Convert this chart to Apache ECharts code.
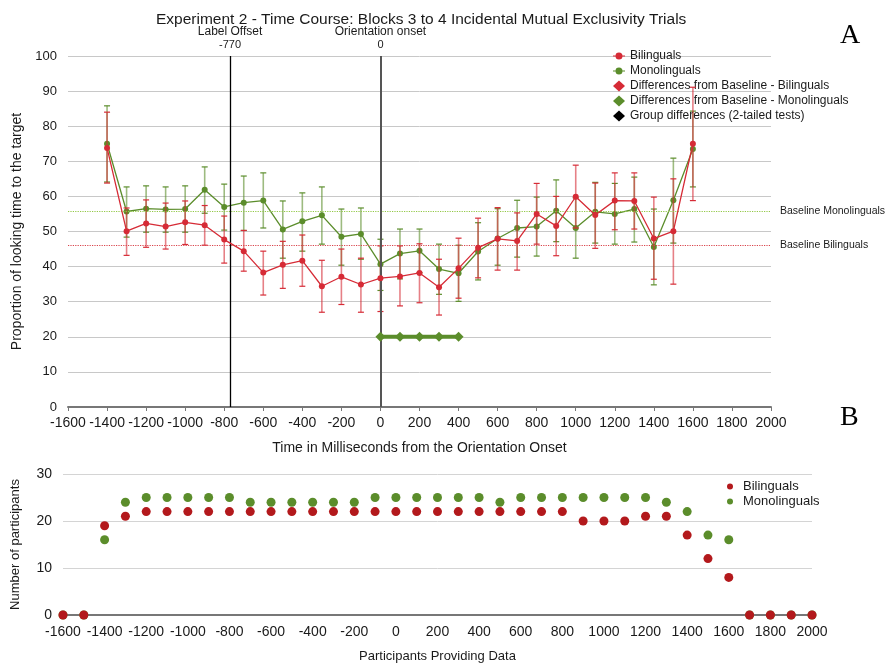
<!DOCTYPE html>
<html>
<head>
<meta charset="utf-8">
<script src="https://cdn.jsdelivr.net/npm/echarts@6/dist/echarts.min.js"></script>
<style>
  html, body { margin: 0; padding: 0; background: #ffffff; }
  #chart { width: 891px; height: 666px; }
</style>
</head>
<body>
<div id="chart"></div>
<script>
// Time course: proportion of looking time (mean with error bounds) per 100 ms bin
const times = [-1400, -1300, -1200, -1100, -1000, -900, -800, -700, -600, -500, -400, -300, -200, -100,
  0, 100, 200, 300, 400, 500, 600, 700, 800, 900, 1000, 1100, 1200, 1300, 1400, 1500, 1600];

const biMean = [73.8, 50.1, 52.3, 51.4, 52.6, 51.8, 47.7, 44.4, 38.3, 40.5, 41.7, 34.4, 37.1, 34.9,
  36.7, 37.2, 38.2, 34.1, 39.5, 45.4, 47.9, 47.3, 55.0, 51.6, 59.9, 54.7, 58.8, 58.7, 48.0, 50.1, 75.0];
const biLow = [63.8, 43.2, 45.5, 45.0, 46.3, 46.1, 41.0, 38.7, 31.9, 33.8, 34.4, 27.0, 29.2, 27.0,
  27.2, 28.8, 29.7, 26.2, 31.0, 36.8, 39.0, 39.0, 46.4, 43.1, 51.0, 45.2, 50.5, 50.7, 36.4, 35.0, 58.8];
const biHigh = [84.0, 56.7, 59.0, 58.1, 58.7, 57.4, 54.4, 50.3, 44.4, 47.2, 49.0, 41.8, 45.0, 42.4,
  45.9, 45.9, 46.5, 42.1, 48.1, 53.8, 56.8, 55.3, 63.7, 60.0, 68.9, 63.8, 66.7, 66.7, 59.8, 65.0, 91.1];

const monoMean = [75.0, 55.7, 56.5, 56.3, 56.4, 61.9, 57.0, 58.2, 58.8, 50.6, 52.9, 54.6, 48.5, 49.3,
  40.7, 43.7, 44.5, 39.3, 38.1, 44.3, 48.0, 51.0, 51.4, 55.9, 51.0, 55.6, 55.0, 56.4, 45.6, 58.9, 73.5];
const monoLow = [64.1, 48.4, 49.8, 49.8, 49.8, 55.2, 50.4, 50.3, 51.0, 42.4, 44.4, 46.4, 40.4, 42.1,
  33.2, 36.5, 38.3, 32.1, 30.1, 36.2, 40.4, 42.7, 43.0, 47.1, 42.4, 46.7, 46.4, 47.0, 34.8, 46.7, 62.7];
const monoHigh = [85.8, 62.7, 63.0, 62.7, 63.0, 68.4, 63.5, 65.8, 66.7, 58.7, 61.0, 62.7, 56.4, 56.7,
  47.8, 50.7, 50.7, 46.4, 46.1, 52.5, 56.5, 58.9, 59.8, 64.7, 59.6, 64.0, 63.7, 65.5, 56.4, 70.9, 84.3];

// Bins where monolinguals differ from their baseline
const diffMonoTimes = [0, 100, 200, 300, 400];
const diffMonoValues = [20, 20, 20, 20, 20];

// Baselines and reference events
const baselineMono = 55.8;
const baselineBi = 46.0;
const labelOffsetTime = -770;
const orientationTime = 0;

// Participants providing data per bin
const countTimes = [-1600, -1500, -1400, -1300, -1200, -1100, -1000, -900, -800, -700, -600, -500, -400,
  -300, -200, -100, 0, 100, 200, 300, 400, 500, 600, 700, 800, 900, 1000, 1100, 1200, 1300, 1400,
  1500, 1600, 1700, 1800, 1900, 2000];
const biCounts = [0, 0, 19, 21, 22, 22, 22, 22, 22, 22, 22, 22, 22,
  22, 22, 22, 22, 22, 22, 22, 22, 22, 22, 22, 22, 20, 20, 20, 21, 21, 17,
  12, 8, 0, 0, 0, 0];
const monoCounts = [0, 0, 16, 24, 25, 25, 25, 25, 25, 24, 24, 24, 24,
  24, 24, 25, 25, 25, 25, 25, 25, 24, 25, 25, 25, 25, 25, 25, 25, 24, 22,
  17, 16, 0, 0, 0, 0];

const FONT = '"Liberation Sans", Arial, Helvetica, sans-serif';
const RED = '#d62b36';
const GREEN = '#5b8d2b';
const DARK_RED = '#b3191c';
const TEXT = '#1a1a1a';

// Legend glyph for a line with a dot marker: filled circle with short stubs, 12x11 box
const DOT_ICON = 'path://M0 0Z M12 11Z M0 5H2.6V6H0Z M9.4 5H12V6H9.4Z ' +
  'M6 2A3.5 3.5 0 1 1 5.999 2Z';

function pairs(xs, ys) {
  return xs.map((x, i) => [x, ys[i]]);
}

function plainNumber(v) {
  return String(v);
}

function errorBars(name, lows, highs, color, z) {
  return {
    type: 'custom',
    name: name,
    xAxisIndex: 0,
    yAxisIndex: 0,
    z: z,
    silent: true,
    data: times.map((t, i) => [t, lows[i], highs[i]]),
    encode: { x: 0, y: [1, 2] },
    renderItem: function (params, api) {
      const x = api.value(0);
      const lo = api.coord([x, api.value(1)]);
      const hi = api.coord([x, api.value(2)]);
      const c = 3;
      return {
        type: 'group',
        children: [
          { type: 'line', shape: { x1: lo[0], y1: lo[1], x2: hi[0], y2: hi[1] },
            style: { stroke: color, lineWidth: 1.6, opacity: 0.6 } },
          { type: 'line', shape: { x1: hi[0] - c, y1: hi[1], x2: hi[0] + c, y2: hi[1] },
            style: { stroke: color, lineWidth: 1.2 } },
          { type: 'line', shape: { x1: lo[0] - c, y1: lo[1], x2: lo[0] + c, y2: lo[1] },
            style: { stroke: color, lineWidth: 1.2 } }
        ]
      };
    }
  };
}

const countLabels = {
  'Bilinguals (n)': 'Bilinguals',
  'Monolinguals (n)': 'Monolinguals'
};

const chart = echarts.init(document.getElementById('chart'), null, { renderer: 'canvas' });

chart.setOption({
  animation: false,
  backgroundColor: '#ffffff',
  textStyle: { fontFamily: FONT, color: TEXT },
  title: {
    text: 'Experiment 2 - Time Course: Blocks 3 to 4 Incidental Mutual Exclusivity Trials',
    left: 151,
    top: 7,
    textStyle: { fontFamily: FONT, fontSize: 15.5, fontWeight: 'normal', color: TEXT }
  },
  graphic: [
    { type: 'text', left: 840, top: 22,
      style: { text: 'A', font: '28px "Liberation Serif", "Times New Roman", serif', fill: '#000' } },
    { type: 'text', left: 840, top: 404,
      style: { text: 'B', font: '28px "Liberation Serif", "Times New Roman", serif', fill: '#000' } }
  ],
  legend: [
    {
      orient: 'vertical',
      left: 608,
      top: 45,
      itemGap: 3,
      itemWidth: 12,
      itemHeight: 11,
      textStyle: { fontFamily: FONT, fontSize: 12, color: TEXT },
      selectedMode: false,
      data: [
        { name: 'Bilinguals', icon: DOT_ICON, itemStyle: { color: RED, borderWidth: 0 } },
        { name: 'Monolinguals', icon: DOT_ICON, itemStyle: { color: GREEN, borderWidth: 0 } },
        { name: 'Differences from Baseline - Bilinguals', icon: 'diamond' },
        { name: 'Differences from Baseline - Monolinguals', icon: 'diamond' },
        { name: 'Group differences (2-tailed tests)', icon: 'diamond' }
      ]
    },
    {
      orient: 'vertical',
      left: 722,
      top: 475,
      itemGap: 2,
      itemWidth: 16,
      itemHeight: 6,
      icon: 'circle',
      textStyle: { fontFamily: FONT, fontSize: 13, color: TEXT },
      selectedMode: false,
      formatter: name => countLabels[name] || name,
      data: ['Bilinguals (n)', 'Monolinguals (n)']
    }
  ],
  grid: [
    { left: 68, right: 120, top: 56, height: 351 },
    { left: 63, right: 79, top: 474, height: 141 }
  ],
  xAxis: [
    {
      type: 'value', gridIndex: 0, min: -1600, max: 2000, interval: 200,
      name: 'Time in Milliseconds from the Orientation Onset',
      nameLocation: 'middle', nameGap: 34,
      nameTextStyle: { fontFamily: FONT, fontSize: 14, color: TEXT },
      axisLine: { show: true, onZero: false, lineStyle: { color: '#777', width: 2 } },
      axisTick: { show: true, length: 4, lineStyle: { color: '#777' } },
      axisLabel: { fontFamily: FONT, fontSize: 14, color: TEXT, margin: 9, formatter: plainNumber },
      splitLine: { show: false }
    },
    {
      type: 'value', gridIndex: 1, min: -1600, max: 2000, interval: 200,
      name: 'Participants Providing Data',
      nameLocation: 'middle', nameGap: 35,
      nameTextStyle: { fontFamily: FONT, fontSize: 13, color: TEXT },
      axisLine: { show: true, onZero: false, lineStyle: { color: '#777', width: 2 } },
      axisTick: { show: false },
      axisLabel: { fontFamily: FONT, fontSize: 14, color: TEXT, margin: 10, formatter: plainNumber },
      splitLine: { show: false }
    }
  ],
  yAxis: [
    {
      type: 'value', gridIndex: 0, min: 0, max: 100, interval: 10,
      name: 'Proportion of looking time to the target',
      nameLocation: 'middle', nameGap: 44,
      nameTextStyle: { fontFamily: FONT, fontSize: 14, color: TEXT },
      axisLine: { show: false },
      axisTick: { show: false },
      axisLabel: { fontFamily: FONT, fontSize: 13, color: TEXT, margin: 11 },
      splitLine: { show: true, lineStyle: { color: '#c8c8c8', width: 1 } }
    },
    {
      type: 'value', gridIndex: 1, min: 0, max: 30, interval: 10,
      name: 'Number of participants',
      nameLocation: 'middle', nameGap: 41,
      nameTextStyle: { fontFamily: FONT, fontSize: 13, color: TEXT },
      axisLine: { show: false },
      axisTick: { show: false },
      axisLabel: { fontFamily: FONT, fontSize: 14, color: TEXT, margin: 11 },
      splitLine: { show: true, lineStyle: { color: '#d4d4d4', width: 1 } }
    }
  ],
  series: [
    errorBars('Monolinguals error', monoLow, monoHigh, GREEN, 2),
    {
      type: 'line', name: 'Monolinguals', xAxisIndex: 0, yAxisIndex: 0, z: 3,
      data: pairs(times, monoMean),
      symbol: 'circle', symbolSize: 6,
      itemStyle: { color: GREEN },
      lineStyle: { color: GREEN, width: 1.3 },
      markLine: {
        silent: true, symbol: 'none',
        data: [{ yAxis: baselineMono }],
        lineStyle: { color: '#93c847', type: 'dotted', width: 1.2 },
        label: { show: true, position: 'end', distance: 9, formatter: 'Baseline Monolinguals',
          fontFamily: FONT, fontSize: 10.5, color: TEXT }
      }
    },
    errorBars('Bilinguals error', biLow, biHigh, RED, 4),
    {
      type: 'line', name: 'Bilinguals', xAxisIndex: 0, yAxisIndex: 0, z: 5,
      data: pairs(times, biMean),
      symbol: 'circle', symbolSize: 6,
      itemStyle: { color: RED },
      lineStyle: { color: RED, width: 1.3 },
      markLine: {
        silent: true, symbol: 'none',
        data: [{ yAxis: baselineBi }],
        lineStyle: { color: '#d9444c', type: 'dotted', width: 1.2 },
        label: { show: true, position: 'end', distance: 9, formatter: 'Baseline Bilinguals',
          fontFamily: FONT, fontSize: 10.5, color: TEXT }
      }
    },
    {
      type: 'line', name: 'Differences from Baseline - Bilinguals', xAxisIndex: 0, yAxisIndex: 0,
      data: [], symbol: 'diamond', itemStyle: { color: RED }, lineStyle: { color: RED }
    },
    {
      type: 'line', name: 'Differences from Baseline - Monolinguals', xAxisIndex: 0, yAxisIndex: 0, z: 6,
      data: pairs(diffMonoTimes, diffMonoValues),
      symbol: 'diamond', symbolSize: 10,
      itemStyle: { color: GREEN },
      lineStyle: { color: GREEN, width: 4 },
      markLine: {
        silent: true, symbol: 'none',
        label: {
          show: true, position: 'end', distance: 5,
          fontFamily: FONT, color: TEXT,
          rich: {
            a: { fontFamily: FONT, fontSize: 12, color: TEXT, lineHeight: 13, align: 'center' },
            b: { fontFamily: FONT, fontSize: 11, color: TEXT, lineHeight: 13, align: 'center' }
          }
        },
        data: [
          { xAxis: labelOffsetTime,
            lineStyle: { color: '#000000', width: 1.3, type: 'solid' },
            label: { formatter: '{a|Label Offset}\n{b|' + labelOffsetTime + '}' } },
          { xAxis: orientationTime,
            lineStyle: { color: '#555555', width: 2, type: 'solid' },
            label: { formatter: '{a|Orientation onset}\n{b|' + orientationTime + '}' } }
        ]
      }
    },
    {
      type: 'line', name: 'Group differences (2-tailed tests)', xAxisIndex: 0, yAxisIndex: 0,
      data: [], symbol: 'diamond', itemStyle: { color: '#000000' }, lineStyle: { color: '#000000' }
    },
    {
      type: 'scatter', name: 'Monolinguals (n)', xAxisIndex: 1, yAxisIndex: 1, z: 2,
      data: pairs(countTimes, monoCounts),
      symbol: 'circle', symbolSize: 9,
      itemStyle: { color: GREEN, opacity: 1 }
    },
    {
      type: 'scatter', name: 'Bilinguals (n)', xAxisIndex: 1, yAxisIndex: 1, z: 3,
      data: pairs(countTimes, biCounts),
      symbol: 'circle', symbolSize: 9,
      itemStyle: { color: DARK_RED, opacity: 1 }
    }
  ]
});
</script>
</body>
</html>
